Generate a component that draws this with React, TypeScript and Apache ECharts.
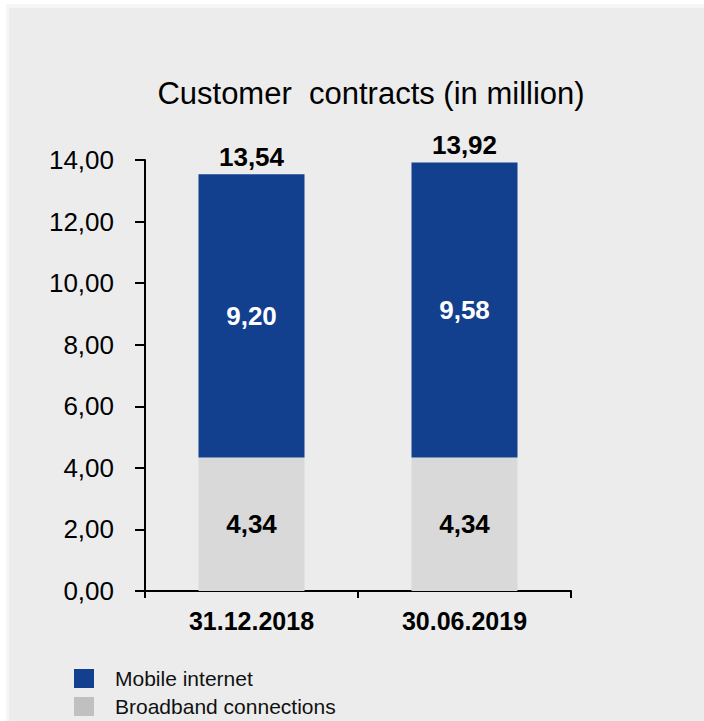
import React, { useEffect, useRef } from "react";
import * as echarts from "echarts";

const categories = ["31.12.2018", "30.06.2019"];
const broadband = [4.34, 4.34];
const mobile = [9.2, 9.58];
const totals = [13.54, 13.92];
const yTicks = [0, 2, 4, 6, 8, 10, 12, 14];

const fmt = (v: number) => v.toFixed(2).replace(".", ",");

export default function App() {
  const ref = useRef<HTMLDivElement>(null);
  useEffect(() => {
    if (!ref.current) return;
    const chart = echarts.init(ref.current, null, { renderer: "svg" });
    const font = "'Liberation Sans', Arial, sans-serif";
    chart.setOption({
      animation: false,
      backgroundColor: "transparent",
      textStyle: { fontFamily: font },
      graphic: [
        {
          type: "text",
          x: 371,
          y: 93,
          style: {
            text: "Customer  contracts (in million)",
            align: "center",
            verticalAlign: "middle",
            fontSize: 31,
            fontFamily: font,
            fill: "#000",
          },
        },
      ],
      grid: { left: 145, right: 133, top: 160, bottom: 130 },
      legend: {
        orient: "vertical",
        left: 74,
        top: 668,
        height: 50,
        padding: 0,
        itemWidth: 20,
        itemHeight: 19,
        itemGap: 7,
        icon: "rect",
        selectedMode: false,
        textStyle: {
          fontSize: 21,
          fontFamily: font,
          color: "#111",
          padding: [0, 0, 0, 16],
        },
        data: [
          { name: "Mobile internet", itemStyle: { color: "#133f8f" } },
          { name: "Broadband connections", itemStyle: { color: "#c0c0c0" } },
        ],
      },
      xAxis: {
        type: "category",
        data: categories,
        axisLine: { lineStyle: { color: "#000", width: 2 } },
        axisTick: { show: true, length: 7, lineStyle: { color: "#000", width: 2 } },
        axisLabel: {
          margin: 17,
          fontSize: 25,
          fontWeight: "bold",
          color: "#000",
          fontFamily: font,
        },
      },
      yAxis: {
        type: "value",
        min: yTicks[0],
        max: yTicks[yTicks.length - 1],
        interval: 2,
        splitLine: { show: false },
        axisLine: { show: true, lineStyle: { color: "#000", width: 2 } },
        axisTick: { show: true, length: 10, lineStyle: { color: "#000", width: 2 } },
        axisLabel: {
          margin: 31,
          fontSize: 26,
          color: "#000",
          fontFamily: font,
          formatter: (v: number) => fmt(v),
        },
      },
      series: [
        {
          name: "Broadband connections",
          type: "bar",
          stack: "s",
          barWidth: 106,
          data: broadband,
          itemStyle: { color: "#d9d9d9" },
          label: {
            show: true,
            position: "inside",
            fontSize: 26,
            fontWeight: "bold",
            color: "#000",
            fontFamily: font,
            formatter: (p: any) => fmt(p.value),
          },
        },
        {
          name: "Mobile internet",
          type: "bar",
          stack: "s",
          barWidth: 106,
          data: mobile,
          itemStyle: { color: "#133f8f" },
          label: {
            show: true,
            position: "inside",
            fontSize: 26,
            fontWeight: "bold",
            color: "#fff",
            fontFamily: font,
            formatter: (p: any) => fmt(p.value),
          },
        },
        {
          name: "Total",
          type: "bar",
          barWidth: 106,
          barGap: "-100%",
          data: totals,
          silent: true,
          itemStyle: { color: "rgba(0,0,0,0)" },
          label: {
            show: true,
            position: "top",
            distance: 4,
            fontSize: 26,
            fontWeight: "bold",
            color: "#000",
            fontFamily: font,
            formatter: (p: any) => fmt(p.value),
          },
        },
      ],
    });
    return () => chart.dispose();
  }, []);

  return (
    <div
      style={{
        position: "absolute",
        left: 0,
        top: 0,
        width: 704,
        height: 721,
        background: "#ffffff",
      }}
    >
      <div
        style={{
          position: "absolute",
          left: 6,
          top: 4,
          width: 698,
          height: 717,
          boxSizing: "border-box",
          borderTop: "4px solid #f6f6f6",
          borderLeft: "3px solid #f6f6f6",
          background: "#ececec",
        }}
      />
      <div
        ref={ref}
        style={{ position: "absolute", left: 0, top: 0, width: 704, height: 721 }}
      />
    </div>
  );
}
